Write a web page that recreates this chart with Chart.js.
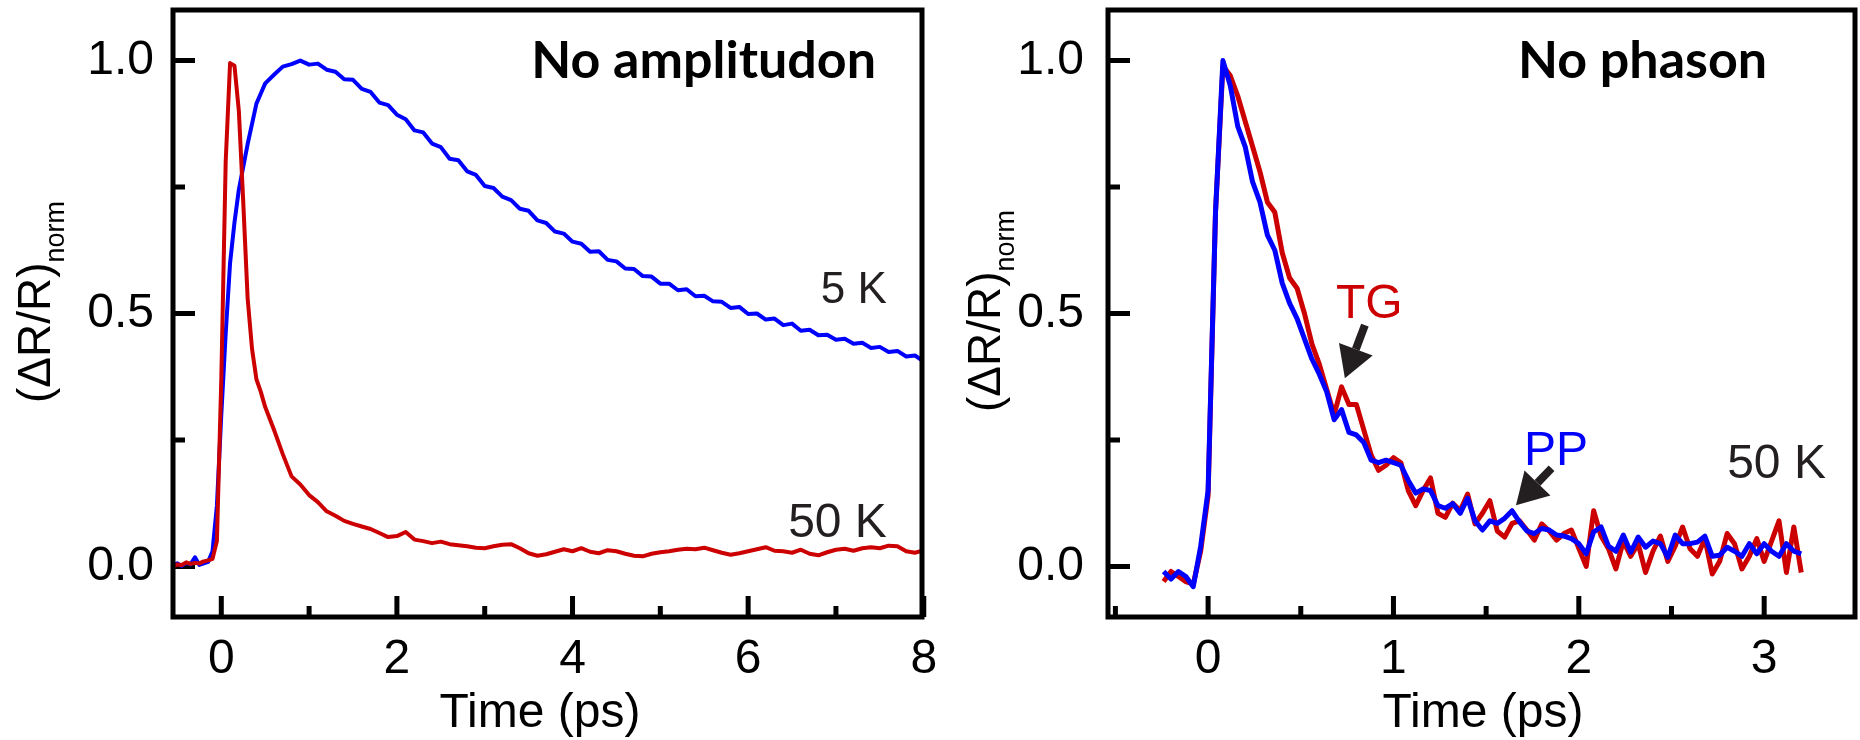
<!DOCTYPE html>
<html>
<head>
<meta charset="utf-8">
<script src="https://cdn.jsdelivr.net/npm/chart.js@4.4.1/dist/chart.umd.min.js"></script>
<style>
  html, body { margin: 0; padding: 0; background: #fff; }
  body { width: 1860px; height: 740px; position: relative; overflow: hidden; }
  canvas { position: absolute; top: 0; }
  #leftChart { left: 0; }
  #rightChart { left: 930px; }
</style>
</head>
<body>
<canvas id="leftChart" width="960" height="740"></canvas>
<canvas id="rightChart" width="930" height="740"></canvas>
<script>
const FONT = "'Liberation Sans', Arial, sans-serif";
const TITLE_FONT = "Lato, 'Open Sans', sans-serif";
Chart.defaults.font.family = FONT;
Chart.defaults.color = "#000";

// Left panel "No amplitudon": time (ps) and normalised dR/R
const timeLeft = [-0.55, -0.5, -0.45, -0.4, -0.35, -0.3, -0.25, -0.2, -0.15, -0.1, -0.05, 0, 0.05, 0.1, 0.15, 0.2, 0.25, 0.3, 0.35, 0.4, 0.45, 0.5,
  0.6, 0.7, 0.8, 0.9, 1.0, 1.1, 1.2, 1.3, 1.4, 1.5, 1.6, 1.7, 1.8, 1.9, 2.0, 2.1, 2.2, 2.3, 2.4, 2.5, 2.6, 2.7, 2.8, 2.9,
  3.0, 3.1, 3.2, 3.3, 3.4, 3.5, 3.6, 3.7, 3.8, 3.9, 4.0, 4.1, 4.2, 4.3, 4.4, 4.5, 4.6, 4.7, 4.8, 4.9,
  5.0, 5.1, 5.2, 5.3, 5.4, 5.5, 5.6, 5.7, 5.8, 5.9, 6.0, 6.1, 6.2, 6.3, 6.4, 6.5, 6.6, 6.7, 6.8, 6.9,
  7.0, 7.1, 7.2, 7.3, 7.4, 7.5, 7.6, 7.7, 7.8, 7.9, 8.0];
const dr5K = [0.002, 0.006, 0.001, 0.007, 0.004, 0.018, 0.003, 0.006, 0.009, 0.03, 0.12, 0.30, 0.46, 0.60, 0.68, 0.745, 0.79, 0.835, 0.875, 0.915, 0.935, 0.955,
  0.972, 0.988, 0.993, 1.0, 0.992, 0.994, 0.982, 0.978, 0.963, 0.962, 0.944, 0.938, 0.917, 0.912, 0.893, 0.884, 0.862, 0.858, 0.836, 0.829, 0.806, 0.803, 0.781, 0.774,
  0.752, 0.748, 0.731, 0.724, 0.707, 0.703, 0.684, 0.679, 0.662, 0.658, 0.642, 0.638, 0.622, 0.623, 0.606, 0.603, 0.589, 0.588, 0.574, 0.573,
  0.559, 0.559, 0.546, 0.548, 0.534, 0.535, 0.524, 0.523, 0.511, 0.513, 0.499, 0.5, 0.488, 0.49, 0.477, 0.48, 0.466, 0.468, 0.457, 0.458,
  0.448, 0.45, 0.44, 0.442, 0.432, 0.434, 0.424, 0.426, 0.415, 0.417, 0.405];
const dr50K = [0.0, 0.004, 0.003, 0.008, 0.005, 0.007, 0.006, 0.01, 0.012, 0.015, 0.05, 0.37, 0.80, 0.995, 0.99, 0.90, 0.72, 0.53, 0.43, 0.37, 0.345, 0.315,
  0.27, 0.222, 0.178, 0.162, 0.141, 0.127, 0.109, 0.1, 0.09, 0.084, 0.079, 0.074, 0.066, 0.058, 0.06, 0.068, 0.053, 0.05, 0.046, 0.049, 0.044, 0.042, 0.04, 0.037,
  0.036, 0.04, 0.043, 0.044, 0.036, 0.026, 0.021, 0.024, 0.029, 0.034, 0.03, 0.036, 0.029, 0.026, 0.032, 0.03, 0.025, 0.021, 0.02, 0.025,
  0.028, 0.03, 0.033, 0.035, 0.034, 0.037, 0.032, 0.027, 0.023, 0.026, 0.03, 0.034, 0.038, 0.031, 0.03, 0.027, 0.033, 0.025, 0.022, 0.028,
  0.033, 0.035, 0.031, 0.036, 0.038, 0.036, 0.041, 0.04, 0.03, 0.027, 0.032];

// Right panel "No phason": TG and PP traces at 50 K
const timeRight = [-0.24, -0.2, -0.16, -0.12, -0.08, -0.04, 0, 0.04, 0.08, 0.12, 0.16, 0.2, 0.24, 0.28, 0.32, 0.36, 0.4, 0.44, 0.48, 0.52,
  0.56, 0.6, 0.64, 0.68, 0.72, 0.76, 0.8, 0.84, 0.88, 0.92, 0.96, 1.0, 1.04, 1.08, 1.12, 1.16, 1.2, 1.24, 1.28, 1.32,
  1.36, 1.4, 1.44, 1.48, 1.52, 1.56, 1.6, 1.64, 1.68, 1.72, 1.76, 1.8, 1.84, 1.88, 1.92, 1.96, 2.0, 2.04, 2.08, 2.12,
  2.16, 2.2, 2.24, 2.28, 2.32, 2.36, 2.4, 2.44, 2.48, 2.52, 2.56, 2.6, 2.64, 2.68, 2.72, 2.76, 2.8, 2.84, 2.88, 2.92,
  2.96, 3.0, 3.04, 3.08, 3.12, 3.16, 3.2];
const drPP = [-0.01, -0.025, -0.01, -0.02, -0.04, 0.04, 0.15, 0.70, 1.0, 0.95, 0.87, 0.83, 0.76, 0.72, 0.655, 0.625, 0.56, 0.52, 0.49, 0.45,
  0.41, 0.38, 0.345, 0.29, 0.31, 0.265, 0.26, 0.245, 0.21, 0.205, 0.21, 0.205, 0.2, 0.17, 0.145, 0.153, 0.15, 0.12, 0.115, 0.124,
  0.105, 0.135, 0.09, 0.072, 0.09, 0.085, 0.095, 0.11, 0.088, 0.07, 0.065, 0.075, 0.072, 0.062, 0.06, 0.055, 0.045, 0.025, 0.068, 0.078,
  0.04, 0.03, 0.062, 0.028, 0.058, 0.038, 0.05, 0.045, 0.018, 0.062, 0.045, 0.045, 0.048, 0.06, 0.02, 0.022, 0.038, 0.03, 0.02, 0.045,
  0.025, 0.045, 0.03, 0.02, 0.045, 0.03, 0.025];
const drTG = [-0.03, -0.01, -0.02, -0.03, -0.035, 0.03, 0.14, 0.70, 0.99, 0.97, 0.93, 0.88, 0.83, 0.78, 0.72, 0.70, 0.62, 0.57, 0.55, 0.50,
  0.44, 0.40, 0.35, 0.30, 0.355, 0.32, 0.32, 0.27, 0.22, 0.19, 0.20, 0.215, 0.205, 0.15, 0.12, 0.15, 0.175, 0.105, 0.097, 0.125,
  0.11, 0.143, 0.084, 0.105, 0.13, 0.07, 0.058, 0.085, 0.09, 0.072, 0.052, 0.084, 0.07, 0.052, 0.065, 0.072, 0.036, 0.0, 0.11, 0.06,
  0.035, -0.005, 0.05, 0.02, 0.045, -0.012, 0.03, 0.06, 0.01, 0.04, 0.078, 0.035, 0.02, 0.055, -0.015, 0.01, 0.065, 0.045, -0.005, 0.02,
  0.055, 0.01, 0.05, 0.09, -0.012, 0.078, -0.012];

// Ticks
const leftXMajor = [0, 2, 4, 6, 8];
const leftXMinor = [1, 3, 5, 7];
const rightXMajor = [0, 1, 2, 3];
const rightXMinor = [-0.5, 0.5, 1.5, 2.5];
const yMajor = [0, 0.5, 1];
const yMinor = [0.25, 0.75];
const yTickLabels = ["0.0", "0.5", "1.0"];

const RED = "#cc0000";
const BLUE = "#0000ff";
const INK = "#231f20";

function toPoints(xs, ys) {
  return xs.map((x, i) => ({ x: x, y: ys[i] }));
}

function drawArrow(ctx, x1, y1, x2, y2) {
  const ang = Math.atan2(y2 - y1, x2 - x1);
  const headLen = 31, headHalf = 18;
  const bx = x2 - headLen * Math.cos(ang);
  const by = y2 - headLen * Math.sin(ang);
  ctx.lineWidth = 8;
  ctx.lineCap = "butt";
  ctx.beginPath();
  ctx.moveTo(x1, y1);
  ctx.lineTo(bx, by);
  ctx.stroke();
  ctx.beginPath();
  ctx.moveTo(x2, y2);
  ctx.lineTo(bx + headHalf * Math.sin(ang), by - headHalf * Math.cos(ang));
  ctx.lineTo(bx - headHalf * Math.sin(ang), by + headHalf * Math.cos(ang));
  ctx.closePath();
  ctx.fill();
}

// Frame, inward ticks and text for one panel
function makeDecor(cfg) {
  return {
    id: "panelDecor",
    beforeDatasetsDraw(chart) {
      const ctx = chart.ctx;
      const xs = chart.scales.x, ys = chart.scales.y;
      const { left, bottom } = chart.chartArea;
      ctx.save();
      ctx.strokeStyle = "#000";
      ctx.lineWidth = 5;
      ctx.beginPath();
      cfg.xMajor.concat(cfg.xMinor).forEach((v) => {
        const px = xs.getPixelForValue(v);
        const len = cfg.xMajor.includes(v) ? 21 : 11;
        ctx.moveTo(px, bottom);
        ctx.lineTo(px, bottom - len);
      });
      yMajor.concat(yMinor).forEach((v) => {
        const py = ys.getPixelForValue(v);
        const len = yMajor.includes(v) ? 22 : 12;
        ctx.moveTo(left, py);
        ctx.lineTo(left + len, py);
      });
      ctx.stroke();
      ctx.restore();
    },
    afterDatasetsDraw(chart) {
      const ctx = chart.ctx;
      const xs = chart.scales.x, ys = chart.scales.y;
      const { left, right, top, bottom } = chart.chartArea;
      ctx.save();
      // plot frame
      ctx.strokeStyle = "#000";
      ctx.lineWidth = 5;
      ctx.lineJoin = "miter";
      ctx.strokeRect(left, top, right - left, bottom - top);

      // annotations
      ctx.textBaseline = "alphabetic";
      cfg.texts.forEach((t) => {
        ctx.font = t.font;
        ctx.fillStyle = t.color;
        ctx.textAlign = t.align;
        ctx.fillText(t.text, xs.getPixelForValue(t.x), ys.getPixelForValue(t.y));
      });
      ctx.fillStyle = INK;
      ctx.strokeStyle = INK;
      cfg.arrows.forEach((a) => {
        drawArrow(ctx, xs.getPixelForValue(a.from[0]), ys.getPixelForValue(a.from[1]),
          xs.getPixelForValue(a.to[0]), ys.getPixelForValue(a.to[1]));
      });

      // x title
      ctx.fillStyle = "#000";
      ctx.font = "48px " + FONT;
      ctx.textAlign = "center";
      ctx.fillText("Time (ps)", cfg.xTitle[0], cfg.xTitle[1]);

      // y title with subscript
      ctx.translate(cfg.yTitle[0], cfg.yTitle[1]);
      ctx.rotate(-Math.PI / 2);
      ctx.textAlign = "left";
      ctx.font = "46px " + FONT;
      const w1 = ctx.measureText("(\u0394R/R)").width;
      ctx.font = "27px " + FONT;
      const w2 = ctx.measureText("norm").width;
      const start = -(w1 + w2) / 2;
      ctx.font = "46px " + FONT;
      ctx.fillText("(\u0394R/R)", start, 0);
      ctx.font = "27px " + FONT;
      ctx.fillText("norm", start + w1, 14);
      ctx.restore();
    },
  };
}

function makeScales(cfg) {
  return {
    x: {
      type: "linear",
      min: cfg.xMin,
      max: cfg.xMax,
      afterBuildTicks: (scale) => {
        scale.ticks = cfg.xMajor.concat(cfg.xMinor).sort((a, b) => a - b).map((v) => ({ value: v }));
      },
      afterFit: (scale) => {
        scale.height = 740 - cfg.bottom;
        scale.paddingLeft = 0;
        scale.paddingRight = 0;
      },
      grid: { display: false, drawTicks: false },
      border: { display: false },
      ticks: {
        autoSkip: false,
        maxRotation: 0,
        padding: 14,
        color: "#000",
        font: { size: 48 },
        callback: (v) => (cfg.xMajor.includes(v) ? String(v) : ""),
      },
    },
    y: {
      type: "linear",
      min: -0.1,
      max: 1.1,
      afterBuildTicks: (scale) => {
        scale.ticks = yMajor.concat(yMinor).sort((a, b) => a - b).map((v) => ({ value: v }));
      },
      afterFit: (scale) => {
        scale.width = cfg.left;
        scale.paddingTop = 0;
        scale.paddingBottom = 0;
      },
      grid: { display: false, drawTicks: false },
      border: { display: false },
      ticks: {
        autoSkip: false,
        padding: cfg.yPad,
        color: "#000",
        font: { size: 48 },
        callback: (v) => (yMajor.includes(v) ? yTickLabels[yMajor.indexOf(v)] : ""),
      },
    },
  };
}

function makeChart(canvasId, cfg, datasets) {
  return new Chart(document.getElementById(canvasId), {
    type: "line",
    data: { datasets: datasets },
    options: {
      responsive: false,
      animation: false,
      devicePixelRatio: 1,
      layout: { padding: { top: 10, right: cfg.padRight, left: 0, bottom: 0 } },
      elements: { point: { radius: 0 }, line: { tension: 0, borderJoinStyle: "round" } },
      plugins: { legend: { display: false }, tooltip: { enabled: false } },
      scales: makeScales(cfg),
    },
    plugins: [makeDecor(cfg)],
  });
}

const leftCfg = {
  xMin: -0.55, xMax: 7.98, xMajor: leftXMajor, xMinor: leftXMinor,
  left: 173, bottom: 617, padRight: 38, yPad: 19,
  xTitle: [540, 727], yTitle: [50, 302],
  texts: [
    { text: "No amplitudon", x: 3.53, y: 0.965, font: "bold 52px " + TITLE_FONT, color: "#000", align: "left" },
    { text: "5 K", x: 7.58, y: 0.521, font: "44px " + FONT, color: INK, align: "right" },
    { text: "50 K", x: 7.58, y: 0.058, font: "48px " + FONT, color: INK, align: "right" },
  ],
  arrows: [],
};

const rightCfg = {
  xMin: -0.54, xMax: 3.49, xMajor: rightXMajor, xMinor: rightXMinor,
  left: 178, bottom: 617, padRight: 5, yPad: 24,
  xTitle: [553, 727], yTitle: [70, 311],
  texts: [
    { text: "No phason", x: 1.672, y: 0.966, font: "bold 52px " + TITLE_FONT, color: "#000", align: "left" },
    { text: "TG", x: 0.69, y: 0.492, font: "48px " + FONT, color: RED, align: "left" },
    { text: "PP", x: 1.704, y: 0.2, font: "48px " + FONT, color: BLUE, align: "left" },
    { text: "50 K", x: 3.333, y: 0.175, font: "48px " + FONT, color: INK, align: "right" },
  ],
  arrows: [
    { from: [0.846, 0.477], to: [0.738, 0.372] },
    { from: [1.853, 0.194], to: [1.661, 0.121] },
  ],
};

makeChart("leftChart", leftCfg, [
  { label: "50 K", data: toPoints(timeLeft, dr50K), borderColor: RED, borderWidth: 4 },
  { label: "5 K", data: toPoints(timeLeft, dr5K), borderColor: BLUE, borderWidth: 4 },
]);

makeChart("rightChart", rightCfg, [
  { label: "PP", data: toPoints(timeRight, drPP), borderColor: BLUE, borderWidth: 5 },
  { label: "TG", data: toPoints(timeRight, drTG), borderColor: RED, borderWidth: 5 },
]);
</script>
</body>
</html>
